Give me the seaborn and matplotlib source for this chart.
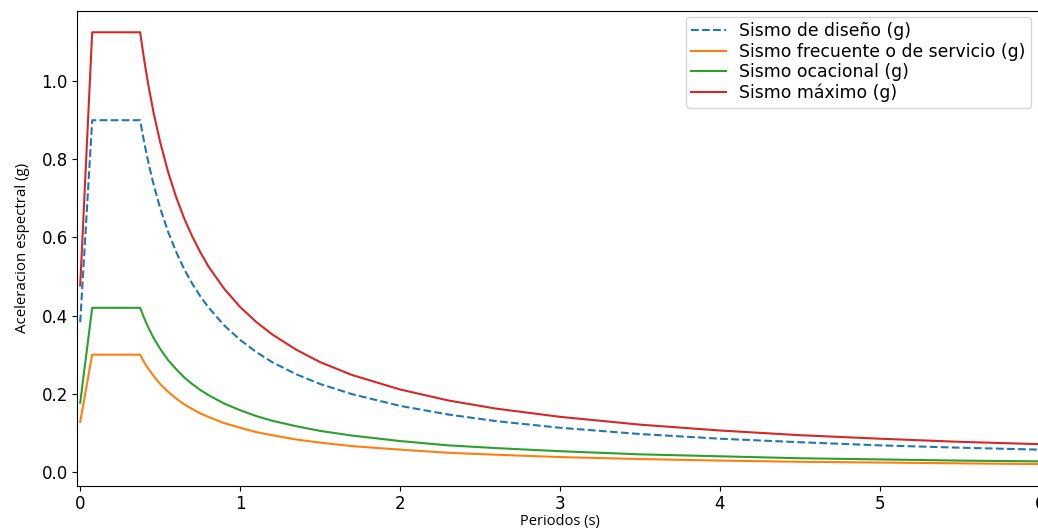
import matplotlib
matplotlib.use("Agg")
import matplotlib.pyplot as plt
import seaborn as sns
import pandas as pd

# Periods (s) at which the spectra are tabulated
periodos = [0.00, 0.075, 0.375, 0.39, 0.41, 0.43, 0.46, 0.50, 0.55, 0.60, 0.65, 0.70, 0.75,
            0.80, 0.90, 1.00, 1.10, 1.20, 1.35, 1.50, 1.70, 2.00, 2.30, 2.60, 3.00, 3.50,
            4.00, 4.50, 5.00, 5.50, 6.00]

# Spectral accelerations (g)
sismo_diseno = [0.383, 0.900, 0.900, 0.865, 0.823, 0.785, 0.734, 0.675, 0.614, 0.563, 0.519, 0.482, 0.450,
                0.422, 0.375, 0.338, 0.307, 0.281, 0.250, 0.225, 0.199, 0.169, 0.147, 0.130, 0.113, 0.097,
                0.085, 0.076, 0.068, 0.062, 0.057]
sismo_frecuente = [0.128, 0.300, 0.300, 0.288, 0.274, 0.262, 0.245, 0.225, 0.205, 0.188, 0.173, 0.161, 0.150,
                   0.141, 0.125, 0.113, 0.102, 0.094, 0.083, 0.075, 0.066, 0.057, 0.049, 0.044, 0.038, 0.033,
                   0.029, 0.026, 0.024, 0.022, 0.020]
sismo_ocasional = [0.177, 0.420, 0.420, 0.404, 0.384, 0.366, 0.342, 0.315, 0.286, 0.263, 0.242, 0.225, 0.210,
                   0.197, 0.175, 0.158, 0.143, 0.131, 0.117, 0.105, 0.093, 0.079, 0.068, 0.061, 0.053, 0.045,
                   0.040, 0.035, 0.032, 0.029, 0.027]
sismo_maximo = [0.477, 1.125, 1.125, 1.082, 1.029, 0.981, 0.917, 0.844, 0.767, 0.703, 0.649, 0.603, 0.563,
                0.527, 0.469, 0.422, 0.384, 0.352, 0.313, 0.281, 0.248, 0.211, 0.183, 0.162, 0.141, 0.121,
                0.106, 0.094, 0.085, 0.077, 0.071]

series = [
    ("Sismo de diseño (g)", sismo_diseno, "#1f77b4", "--"),
    ("Sismo frecuente o de servicio (g)", sismo_frecuente, "#ff7f0e", "-"),
    ("Sismo ocacional (g)", sismo_ocasional, "#2ca02c", "-"),
    ("Sismo máximo (g)", sismo_maximo, "#d62728", "-"),
]

plt.rcParams["font.family"] = ["DejaVu Sans"]

fig = plt.figure(figsize=(10.38, 5.30), dpi=100)
ax = fig.add_axes([77 / 1038, 1 - 485.7 / 530, (1043 - 77) / 1038, (485.7 - 10.7) / 530])

for nombre, valores, color, estilo in series:
    df = pd.DataFrame({"T": periodos, "Sa": valores})
    sns.lineplot(data=df, x="T", y="Sa", ax=ax, color=color, linestyle=estilo,
                 linewidth=1.5, label=nombre, estimator=None, sort=False)

ax.set_xlim(-0.02, 6.02)
ax.set_xticks([0, 1, 2, 3, 4, 5, 6])
ax.set_yticks([0.0, 0.2, 0.4, 0.6, 0.8, 1.0])
ax.tick_params(labelsize=12, pad=3)
ax.set_xlabel("Periodos (s)", fontsize=10.5, fontfamily="Open Sans", labelpad=1)
ax.set_ylabel("Aceleracion espectral (g)", fontsize=10.8, fontfamily="Open Sans", labelpad=8)

ax.legend(loc="upper right", bbox_to_anchor=(1031 / 1038, 1 - 17 / 530),
          bbox_transform=fig.transFigure, borderaxespad=0, fontsize=12.4,
          labelspacing=0.15, borderpad=0.3, handlelength=2.0)

fig.savefig("out.png", dpi=100)
